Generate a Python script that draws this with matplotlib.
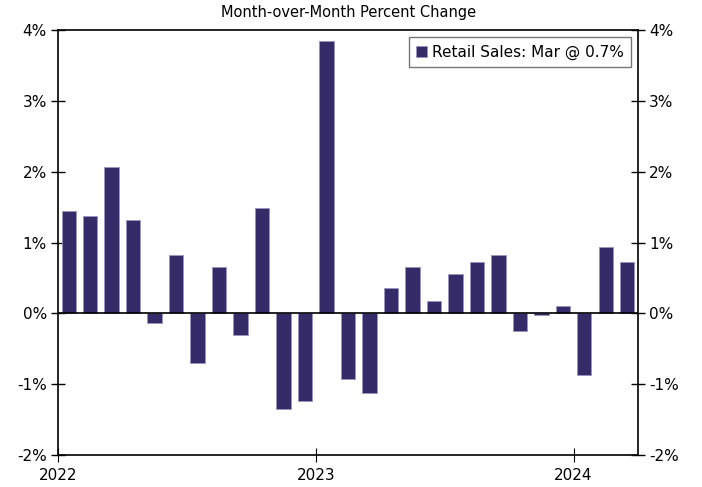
import matplotlib.pyplot as plt
from matplotlib.ticker import FuncFormatter

# monthly retail sales, Jan 2022 - Mar 2024, % m/m
months = ['Jan 22', 'Feb 22', 'Mar 22', 'Apr 22', 'May 22', 'Jun 22', 'Jul 22', 'Aug 22', 'Sep 22',
          'Oct 22', 'Nov 22', 'Dec 22', 'Jan 23', 'Feb 23', 'Mar 23', 'Apr 23', 'May 23', 'Jun 23',
          'Jul 23', 'Aug 23', 'Sep 23', 'Oct 23', 'Nov 23', 'Dec 23', 'Jan 24', 'Feb 24', 'Mar 24']
retail_sales = [1.44, 1.37, 2.06, 1.32, -0.14, 0.83, -0.70, 0.65, -0.30,
                1.49, -1.35, -1.24, 3.85, -0.92, -1.12, 0.36, 0.65, 0.18,
                0.55, 0.73, 0.83, -0.25, -0.03, 0.11, -0.87, 0.94, 0.72]
year_ticks = [0, 12, 24]
year_labels = ['2022', '2023', '2024']

bar_color = '#352b69'

fig = plt.figure(figsize=(7.02, 4.87), dpi=100)
ax = fig.add_axes([0.0826, 0.0657, 0.8262, 0.8727])

x = [i + 0.5 for i in range(len(months))]
ax.bar(x, retail_sales, width=0.67, color=bar_color, edgecolor='#9a95c0', linewidth=0.6,
       label='Retail Sales: Mar @ 0.7%', zorder=2)
ax.axhline(0, color='black', linewidth=1.2, zorder=3)

ax.set_xlim(0, len(months))
ax.set_ylim(-2, 4)
ax.set_yticks(range(-2, 5))
ax.yaxis.set_major_formatter(FuncFormatter(lambda v, p: f'{int(v)}%'))
ax.set_xticks(year_ticks)
ax.set_xticklabels(year_labels)

ax.tick_params(axis='y', direction='inout', length=10, width=1, labelsize=11,
               left=True, right=True, labelleft=True, labelright=True, pad=3)
ax.tick_params(axis='x', direction='inout', length=10, width=0.8, labelsize=11, pad=4)

for s in ax.spines.values():
    s.set_linewidth(1.2)
    s.set_color('black')

fig.text(0.496, 1 - 17.5 / 487, 'Month-over-Month Percent Change',
         ha='center', va='baseline', fontsize=10.5)

leg = ax.legend(loc='upper right', fontsize=11, handlelength=0.7, handleheight=0.7,
                handletextpad=0.3, borderpad=0.5, borderaxespad=0.45, fancybox=False)
leg.get_frame().set_edgecolor('#555555')
leg.get_frame().set_linewidth(1)

plt.savefig('out.png', dpi=100)
plt.close()
